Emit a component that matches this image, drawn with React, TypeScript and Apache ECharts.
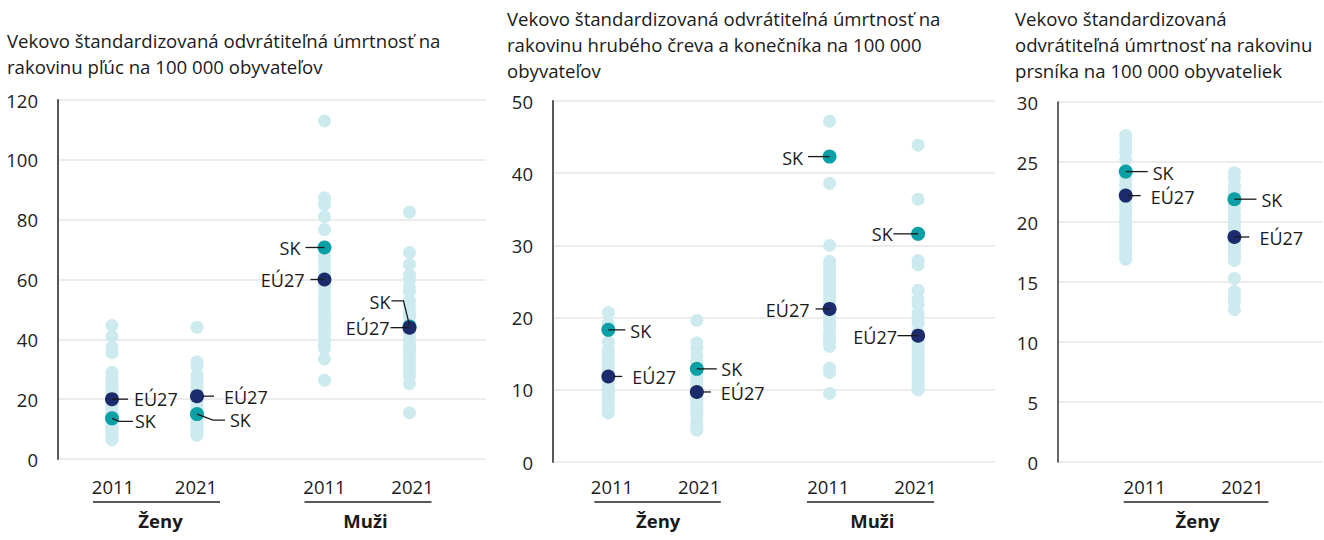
import React, { useEffect, useRef } from "react";
import * as echarts from "echarts";

// ---------- data ----------
const groupNames = ["Ženy", "Muži"];
const yearLabels = ["2011", "2021"];
const colPositions = [1, 2, 3.5, 4.5];

const titles = [
  "Vekovo štandardizovaná odvrátiteľná úmrtnosť na\nrakovinu pľúc na 100 000 obyvateľov",
  "Vekovo štandardizovaná odvrátiteľná úmrtnosť na\nrakovinu hrubého čreva a konečníka na 100 000\nobyvateľov",
  "Vekovo štandardizovaná\nodvrátiteľná úmrtnosť na rakovinu\nprsníka na 100 000 obyvateliek",
];

const yMax = [120, 50, 30];
const yInterval = [20, 10, 5];

// Lung cancer (countries)
const lungWomen2011 = [44.6, 41, 37.5, 35.5, 29, 27.5, 26, 25, 24, 23, 22, 21, 20.5, 19, 18, 17, 16, 15, 14.5, 13.6, 12.5, 11.5, 10.5, 9.5, 8.5, 7.5, 6.4];
const lungWomen2021 = [44, 32.5, 31, 28, 27, 25.5, 24, 23, 22, 21.5, 20, 19, 18, 17, 16.5, 15.2, 14, 13, 12.5, 12, 11, 10.5, 10, 9.5, 9, 8.5, 7.9];
const lungMen2011 = [113, 87.3, 85, 81, 76.7, 70.7, 68, 66, 64, 62, 58, 56, 54, 52, 50, 48.5, 47, 46, 45, 44, 43, 42, 40, 38, 37, 33.4, 26.3];
const lungMen2021 = [82.5, 69, 65, 61.5, 60, 57.5, 56, 53, 51, 49, 48, 47.5, 45, 44.3, 42, 40, 38.5, 37.5, 36.5, 35, 34, 32, 31, 29.5, 28, 25.2, 15.4];
const lungSK = [13.6, 15.0, 70.7, 44.3];
const lungEU = [20.0, 21.0, 60.0, 43.9];

// Colorectal cancer (countries)
const crcWomen2011 = [20.7, 19.2, 18.3, 16.6, 15.5, 15, 14.5, 14, 13.6, 13.2, 12.8, 12.4, 12, 11.6, 11.2, 10.8, 10.4, 10, 9.6, 9.2, 8.9, 8.5, 8, 7.6, 7.3, 7, 6.8];
const crcWomen2021 = [19.6, 16.5, 15.8, 14.7, 14, 12.9, 12, 11.4, 11, 10.6, 10.2, 9.7, 9.3, 9, 8.7, 8.4, 8.1, 7.8, 7.5, 7.2, 7, 6.8, 6.5, 5.6, 5.2, 4.6, 4.4];
const crcMen2011 = [47.2, 42.3, 38.6, 30, 27.8, 27.2, 26.6, 26, 25.4, 24.8, 24.2, 23.6, 23, 22.4, 21.6, 20.8, 20.2, 19.5, 18.8, 18, 17.5, 17, 16.5, 16, 13, 12.4, 9.5];
const crcMen2021 = [43.9, 36.4, 31.6, 27.9, 27.3, 23.8, 22.5, 21.8, 20.6, 19.8, 19.2, 18, 16.8, 16.2, 15.6, 15, 14.5, 14, 13.5, 13, 12.5, 12, 11.5, 11, 10.6, 10.2, 10];
const crcSK = [18.3, 12.9, 42.3, 31.6];
const crcEU = [11.85, 9.7, 21.2, 17.5];

// Breast cancer (countries)
const breast2011 = [27.2, 26.7, 26.2, 25.8, 25.2, 24.2, 23.6, 23.1, 22.6, 22, 21.6, 21.2, 20.8, 20.4, 20.1, 19.8, 19.5, 19.2, 19, 18.7, 18.4, 18.1, 17.9, 17.6, 17.3, 17, 16.9];
const breast2021 = [24.1, 23.6, 23, 22.9, 22.4, 21.9, 21.5, 21.1, 20.6, 20.2, 20, 19.8, 19.5, 19.1, 18.8, 18.5, 18.2, 17.9, 17.6, 17.3, 17, 16.8, 15.3, 14.2, 13.8, 13.4, 12.7];
const breastSK = [24.2, 21.9];
const breastEU = [22.2, 18.75];

const panelCountries = [
  [lungWomen2011, lungWomen2021, lungMen2011, lungMen2021],
  [crcWomen2011, crcWomen2021, crcMen2011, crcMen2021],
  [breast2011, breast2021],
];
const panelSK = [lungSK, crcSK, breastSK];
const panelEU = [lungEU, crcEU, breastEU];

// ---------- layout / style ----------
const FONT = '"Open Sans", "Noto Sans", sans-serif';
const FS = 18.5;
const FS_ANNO = 18;
const FS_TITLE = 18.6;
const TEXT = "#1a1a1a";
const LIGHT = "#cdebef";
const TEAL = "#0aa0a6";
const NAVY = "#1c2b6b";

const grids = [
  { left: 58, top: 100, width: 428, height: 359 },
  { left: 553, top: 101, width: 442, height: 361 },
  { left: 1058, top: 102, width: 264, height: 360 },
];
const xRange = [
  [0.365, 5.4],
  [0.375, 5.369],
  [0.377, 2.806],
];
const titlePos = [
  { x: 7, y: 27 },
  { x: 507, y: 5 },
  { x: 1015, y: 5 },
];
const axisColors = ["#595959", "#595959", "#333333"];

// x-axis groups: columns, year label offsets, underline offsets, group label offset
const xGroups = [
  [
    { name: 0, cols: [0, 1], yearDx: [1, -1], lineDx: [-19, 23], nameDx: 6 },
    { name: 1, cols: [2, 3], yearDx: [0, 3], lineDx: [-20, 22], nameDx: -1.5 },
  ],
  [
    { name: 0, cols: [0, 1], yearDx: [3.7, 2.3], lineDx: [-14, 24], nameDx: 5.6 },
    { name: 1, cols: [2, 3], yearDx: [-1.3, -2.7], lineDx: [-22.6, 16], nameDx: -1.5 },
  ],
  [{ name: 0, cols: [0, 1], yearDx: [19, 8], lineDx: [-2, 34], nameDx: 17.6 }],
];

type Anno = { p: number; s: "SK" | "EU"; c: number; pts: number[][]; tx: number; ty: number; al: "left" | "right" };
const annos: Anno[] = [
  { p: 0, s: "EU", c: 0, pts: [[0, 0], [16, 0]], tx: 22, ty: 0, al: "left" },
  { p: 0, s: "SK", c: 0, pts: [[0, 0], [7, 3], [21, 3]], tx: 23, ty: 3, al: "left" },
  { p: 0, s: "EU", c: 1, pts: [[5, 0], [17, 0]], tx: 27, ty: 1, al: "left" },
  { p: 0, s: "SK", c: 1, pts: [[0, 0], [16, 6], [28, 6]], tx: 33, ty: 6, al: "left" },
  { p: 0, s: "SK", c: 2, pts: [[-19, 0], [0, 0]], tx: -24, ty: 1, al: "right" },
  { p: 0, s: "EU", c: 2, pts: [[-14, 0], [0, 0]], tx: -20, ty: 0.5, al: "right" },
  { p: 0, s: "SK", c: 3, pts: [[-18, -25.5], [-6, -25.5], [0, -1]], tx: -19, ty: -24, al: "right" },
  { p: 0, s: "EU", c: 3, pts: [[-19, 0], [0, 0]], tx: -20, ty: 0.7, al: "right" },
  { p: 1, s: "SK", c: 0, pts: [[0, 0], [17, 0]], tx: 22, ty: 0.7, al: "left" },
  { p: 1, s: "EU", c: 0, pts: [[5, 0], [14, 0]], tx: 24, ty: 0.6, al: "left" },
  { p: 1, s: "SK", c: 1, pts: [[0, 0], [20, 0]], tx: 24.5, ty: 0, al: "left" },
  { p: 1, s: "EU", c: 1, pts: [[6, 0], [14, 0]], tx: 24, ty: 1, al: "left" },
  { p: 1, s: "SK", c: 2, pts: [[-21.6, 0], [0, 0]], tx: -26.5, ty: 1, al: "right" },
  { p: 1, s: "EU", c: 2, pts: [[-14, 0], [0, 0]], tx: -20, ty: 1, al: "right" },
  { p: 1, s: "SK", c: 3, pts: [[-24.7, 0], [0, 0]], tx: -25.4, ty: 0.3, al: "right" },
  { p: 1, s: "EU", c: 3, pts: [[-20.7, 0], [0, 0]], tx: -21, ty: 1.3, al: "right" },
  { p: 2, s: "SK", c: 0, pts: [[0, 0], [22, 0]], tx: 27, ty: 1, al: "left" },
  { p: 2, s: "EU", c: 0, pts: [[2, 0], [15, 0]], tx: 25, ty: 1, al: "left" },
  { p: 2, s: "SK", c: 1, pts: [[0, 0], [22, 0]], tx: 27, ty: 0.3, al: "left" },
  { p: 2, s: "EU", c: 1, pts: [[0, 0], [15, 0]], tx: 25, ty: 1, al: "left" },
];

const YEAR_Y = 486;
const LINE_Y = 502;
const GROUP_Y = 520;

export default function App() {
  const ref = useRef<HTMLDivElement>(null);
  useEffect(() => {
    if (!ref.current) return;
    const chart = echarts.init(ref.current, undefined, { renderer: "svg" });

    const series: any[] = [];
    for (let p = 0; p < 3; p++) {
      const light: number[][] = [];
      panelCountries[p].forEach((col, ci) => col.forEach((v) => light.push([colPositions[ci], v])));
      series.push({
        type: "scatter", xAxisIndex: p, yAxisIndex: p, data: light, symbolSize: 13,
        itemStyle: { color: LIGHT, opacity: 1 }, z: 2, silent: true,
      });
      series.push({
        type: "scatter", xAxisIndex: p, yAxisIndex: p,
        data: panelSK[p].map((v, ci) => [colPositions[ci], v]), symbolSize: 14,
        itemStyle: { color: TEAL, opacity: 1 }, z: 3, silent: true,
      });
      series.push({
        type: "scatter", xAxisIndex: p, yAxisIndex: p,
        data: panelEU[p].map((v, ci) => [colPositions[ci], v]), symbolSize: 14,
        itemStyle: { color: NAVY, opacity: 1 }, z: 4, silent: true,
      });
    }

    chart.setOption({
      animation: false,
      backgroundColor: "#ffffff",
      grid: grids.map((g) => ({ ...g, containLabel: false })),
      xAxis: grids.map((_, p) => ({
        type: "value", gridIndex: p, min: xRange[p][0], max: xRange[p][1],
        axisLine: { show: false }, axisTick: { show: false }, axisLabel: { show: false }, splitLine: { show: false },
      })),
      yAxis: grids.map((_, p) => ({
        type: "value", gridIndex: p, min: 0, max: yMax[p], interval: yInterval[p],
        axisLine: { show: true, lineStyle: { color: axisColors[p], width: p === 2 ? 1.5 : 2 } },
        axisTick: { show: false },
        axisLabel: { color: "#222", fontSize: FS, fontFamily: FONT, margin: 20 },
        splitLine: { show: true, lineStyle: { color: "#e6e6e6", width: 1.5 } },
      })),
      series,
    });

    const graphic: any[] = [];
    titles.forEach((t, p) => {
      graphic.push({
        type: "text", x: titlePos[p].x, y: titlePos[p].y, silent: true,
        style: { text: t, fill: TEXT, fontSize: FS_TITLE, fontFamily: FONT, lineHeight: 26, verticalAlign: "top", align: "left" },
      });
    });

    const px = (p: number, x: number, y: number) =>
      chart.convertToPixel({ xAxisIndex: p, yAxisIndex: p } as any, [x, y]) as number[];

    xGroups.forEach((gs, p) => {
      gs.forEach((g) => {
        const xs = g.cols.map((c) => px(p, colPositions[c], 0)[0]);
        g.cols.forEach((c, k) => {
          graphic.push({
            type: "text", x: xs[k] + g.yearDx[k], y: YEAR_Y, silent: true,
            style: { text: yearLabels[k], fill: TEXT, fontSize: FS, fontFamily: FONT, align: "center", verticalAlign: "middle" },
          });
        });
        graphic.push({
          type: "line", silent: true,
          shape: { x1: xs[0] + g.lineDx[0], y1: LINE_Y, x2: xs[1] + g.lineDx[1], y2: LINE_Y },
          style: { stroke: "#595959", lineWidth: 2 },
        });
        graphic.push({
          type: "text", x: (xs[0] + xs[1]) / 2 + g.nameDx, y: GROUP_Y, silent: true,
          style: { text: groupNames[g.name], fill: TEXT, fontSize: FS, fontWeight: "bold", fontFamily: FONT, align: "center", verticalAlign: "middle" },
        });
      });
    });

    annos.forEach((a) => {
      const vals = a.s === "SK" ? panelSK[a.p] : panelEU[a.p];
      const [cx, cy] = px(a.p, colPositions[a.c], vals[a.c]);
      graphic.push({
        type: "polyline", silent: true, z: 10,
        shape: { points: a.pts.map(([dx, dy]) => [cx + dx, cy + dy]) },
        style: { stroke: "#1a1a1a", lineWidth: 1.3, fill: null },
      });
      graphic.push({
        type: "text", x: cx + a.tx, y: cy + a.ty, silent: true, z: 10,
        style: { text: a.s === "SK" ? "SK" : "EÚ27", fill: TEXT, fontSize: FS_ANNO, fontFamily: FONT, align: a.al, verticalAlign: "middle" },
      });
    });

    chart.setOption({ graphic });

    return () => chart.dispose();
  }, []);

  return <div ref={ref} style={{ position: "absolute", left: 0, top: 0, width: 1324, height: 540 }} />;
}
